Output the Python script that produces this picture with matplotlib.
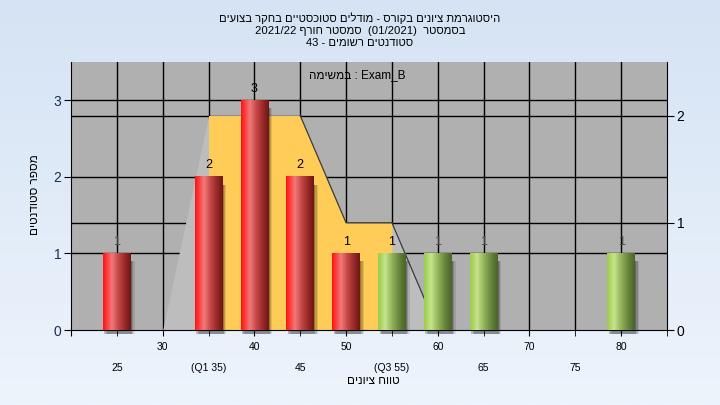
import re
import numpy as np
import matplotlib
matplotlib.use('Agg')
import matplotlib.pyplot as plt
from matplotlib.patches import Rectangle
from matplotlib.colors import LinearSegmentedColormap

plt.rcParams['font.family'] = ['Liberation Sans', 'DejaVu Sans']

# data
scores = [25, 30, 35, 40, 45, 50, 55, 60, 65, 70, 75, 80]
counts = [1, 0, 2, 3, 2, 1, 1, 1, 1, 0, 0, 1]
pass_mark = 55

# smoothed distribution (right axis)
dist_x = [30, 35, 40, 45, 50, 55, 60]
dist_y = [0, 2, 2, 2, 1, 1, 0]
q1, q3 = 35, 55

row1_ticks = [20, 30, 40, 50, 60, 70, 80]
row1_labels = ['', '30', '40', '50', '60', '70', '80']
row2_ticks = [25, 35, 45, 55, 65, 75, 85]
row2_labels = ['25', '(Q1 35)', '45', '(Q3 55)', '65', '75', '']

title_lines = ['היסטוגרמת ציונים בקורס - מודלים סטוכסטיים בחקר בצועים',
               'בסמסטר  (01/2021)  סמסטר חורף 2021/22',
               'סטודנטים רשומים - 43']
task_text = 'Exam_B : במשימה'
x_title = 'טווח ציונים'
y_title = 'מספר סטודנטים'


def visual(s):
    # no bidi in matplotlib: flip the hebrew, keep numbers / latin readable
    s = s[::-1]
    return re.sub(r'[0-9A-Za-z_/().]+', lambda m: m.group(0)[::-1], s)


fig = plt.figure(figsize=(7.2, 4.05), dpi=100)

# background gradient
bg = fig.add_axes([0, 0, 1, 1], zorder=-10)
grad = np.linspace(0, 1, 256).reshape(-1, 1)
bg_cmap = LinearSegmentedColormap.from_list('bg', ['#d5e3f4', '#edf4fc'])
bg.imshow(grad, cmap=bg_cmap, aspect='auto', extent=(0, 1, 0, 1))
bg.axis('off')

ax = fig.add_axes([71/720, 75/405, 596/720, 268/405])
ax.set_facecolor('#b0b0b0')
ax.set_xlim(20, 85)
ax.set_ylim(0, 3.5)

ax2 = ax.twinx()
ax2.set_ylim(0, 2.5)

# grid lines (under the area)
for v in range(25, 85, 5):
    ax.axvline(v, color='black', lw=1, zorder=0.5)
for v in [1, 2, 3]:
    ax.axhline(v, color='black', lw=1, zorder=0.5)
ax.hlines([1, 2], 20, 85, colors='black', lw=1, zorder=0.5, transform=ax2.transData)

# distribution area
dx = np.array(dist_x)
dy = np.array(dist_y)
ax.fill_between(dx, 0, dy, color='#bdbdbd', lw=0, zorder=1, transform=ax2.transData)
ax.fill_between(dx, 0, dy, where=(dx >= q1) & (dx <= q3), color='#ffcc58', lw=0,
                zorder=1.1, transform=ax2.transData)
ax.plot(dx[3:], dy[3:], color='#3a3a3a', lw=0.9, zorder=1.2, transform=ax2.transData)

red_cmap = LinearSegmentedColormap.from_list('r', [
    (0.0, '#ff1414'), (0.1, '#ff3030'), (0.32, '#f07a7a'), (0.55, '#c84848'),
    (0.8, '#962828'), (1.0, '#701414')])
green_cmap = LinearSegmentedColormap.from_list('g', [
    (0.0, '#9ccc48'), (0.25, '#c6e48c'), (0.5, '#93b45a'), (0.8, '#617f38'),
    (1.0, '#4a6428')])
strip = np.linspace(0, 1, 64).reshape(1, -1)

w = 3.0
for x, c in zip(scores, counts):
    if c == 0:
        continue
    # soft shadow
    for off, a in [(0.15, 0.22), (0.3, 0.16), (0.45, 0.1)]:
        ax.add_patch(Rectangle((x - w/2 + off, -0.05), w, c - 0.05,
                               color='black', alpha=a, lw=0, zorder=2, clip_on=False))
    cm = red_cmap if x < pass_mark else green_cmap
    ax.imshow(strip, cmap=cm, aspect='auto', extent=(x - w/2, x + w/2, 0, c),
              interpolation='bilinear', zorder=3)
    lab_col = 'black' if q1 <= x <= q3 else '#4a4a4a'
    ax.text(x, c + 0.07, str(c), ha='center', va='bottom', fontsize=9,
            color=lab_col, zorder=4)

ax.set_xlim(20, 85)
ax.set_ylim(0, 3.5)

# axes styling
for sp in ['top', 'right']:
    ax.spines[sp].set_visible(False)
for sp in ['top', 'left', 'bottom']:
    ax2.spines[sp].set_visible(False)
ax2.spines['right'].set_color('black')

ax.set_yticks([0, 1, 2, 3])
ax.tick_params(axis='y', direction='out', length=5, labelsize=10,
               labelcolor='#1c2c50', pad=2)
ax2.set_yticks([0, 1, 2])
ax2.tick_params(axis='y', direction='out', length=5, labelsize=10, pad=2)

ax.set_xticks(row1_ticks)
ax.set_xticklabels(row1_labels)
ax.set_xticks(row2_ticks, minor=True)
ax.set_xticklabels(row2_labels, minor=True)
ax.tick_params(axis='x', which='major', direction='out', length=4, labelsize=7.5, pad=5)
ax.tick_params(axis='x', which='minor', direction='out', length=4, labelsize=7.5, pad=19.5)

ax.text(0.48, 0.951, visual(task_text), transform=ax.transAxes, ha='center',
        va='center', fontsize=8.5, zorder=5)

# titles
for i, line in enumerate(title_lines):
    fig.text(0.5, 1 - (18 + 12.5 * i) / 405, visual(line), ha='center', va='center',
             fontsize=8.1)

fig.text(373/720, 1 - 381/405, visual(x_title), ha='center', va='center', fontsize=8.5)
fig.text(35/720, 1 - 195/405, visual(y_title), ha='center', va='center',
         fontsize=8.5, rotation=90)

plt.savefig('out.png', dpi=100)
